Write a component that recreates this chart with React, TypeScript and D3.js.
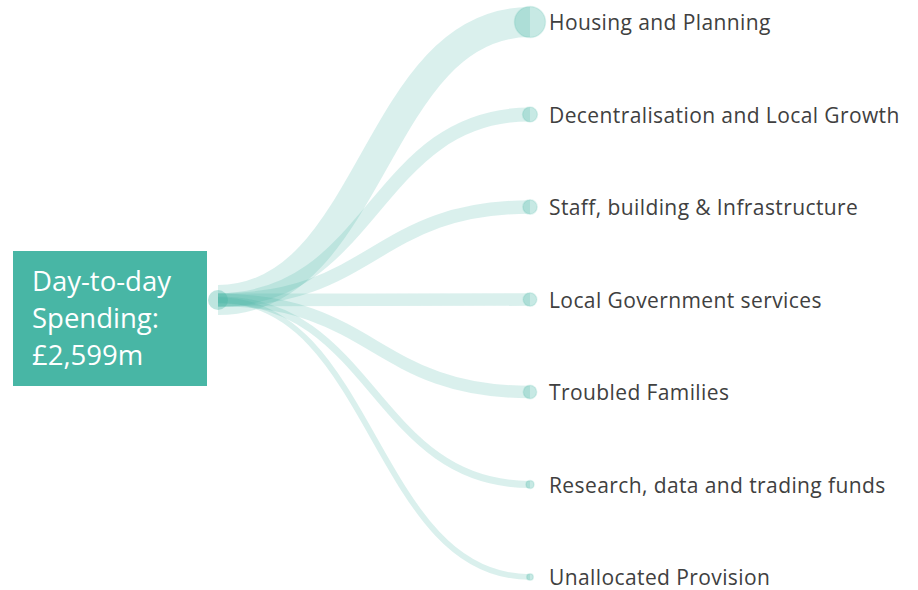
import React, { useEffect, useRef } from "react";
import * as d3 from "d3";

// spending split, £m
const categories = [
  "Housing and Planning",
  "Decentralisation and Local Growth",
  "Staff, building & Infrastructure",
  "Local Government services",
  "Troubled Families",
  "Research, data and trading funds",
  "Unallocated Provision",
];
const values = [1399, 300, 280, 250, 240, 80, 50];
const rootLabel = ["Day-to-day", "Spending:", "£2,599m"];

const W = 918;
const H = 590;
const teal = "#45b5a4";

export default function App() {
  const ref = useRef<SVGSVGElement>(null);

  useEffect(() => {
    const svg = d3.select(ref.current);
    svg.selectAll("*").remove();

    const root = { x: 218, y: 300 };
    const leafX = 530;

    const y = d3.scalePoint<string>().domain(categories).range([22, 577]);
    const width = d3.scaleSqrt().domain([0, d3.max(values) as number]).range([0, 30]);

    const data = categories.map((c, i) => ({ name: c, value: values[i], y: y(c) as number }));

    const link = d3
      .linkHorizontal<any, [number, number]>()
      .source(() => [root.x, root.y])
      .target((d: any) => [leafX, d.y]);

    svg
      .append("g")
      .selectAll("path")
      .data(data)
      .join("path")
      .attr("d", (d) => link(d) as string)
      .attr("fill", "none")
      .attr("stroke", teal)
      .attr("stroke-opacity", 0.2)
      .attr("stroke-width", (d) => width(d.value));

    // root node
    svg
      .append("circle")
      .attr("cx", root.x)
      .attr("cy", root.y)
      .attr("r", 10)
      .attr("fill", teal)
      .attr("fill-opacity", 0.35);

    const leaves = svg.append("g").selectAll("g").data(data).join("g")
      .attr("transform", (d) => `translate(${leafX},${d.y})`);

    leaves
      .append("circle")
      .attr("r", (d) => width(d.value) / 2 + 0.5)
      .attr("fill", teal)
      .attr("fill-opacity", 0.3)
      .attr("stroke", teal)
      .attr("stroke-opacity", 0.15)
      .attr("stroke-width", 1.5);

    leaves
      .append("text")
      .attr("x", 19)
      .attr("dy", "0.4em")
      .attr("font-family", "'Open Sans', sans-serif")
      .attr("font-size", 21)
      .attr("letter-spacing", 0.4)
      .attr("fill", "#404040")
      .text((d) => d.name);

    // label box on the left
    svg
      .append("rect")
      .attr("x", 13)
      .attr("y", 251)
      .attr("width", 194)
      .attr("height", 135)
      .attr("fill", "#48b6a5");

    svg
      .append("text")
      .attr("font-family", "'Open Sans', sans-serif")
      .attr("font-size", 27.5)
      .attr("fill", "#fff")
      .selectAll("tspan")
      .data(rootLabel)
      .join("tspan")
      .attr("x", 32)
      .attr("y", (_, i) => 291 + i * 37)
      .text((d) => d);
  }, []);

  return (
    <svg
      ref={ref}
      width={W}
      height={H}
      style={{ position: "absolute", left: 0, top: 0, background: "#fff" }}
    />
  );
}
